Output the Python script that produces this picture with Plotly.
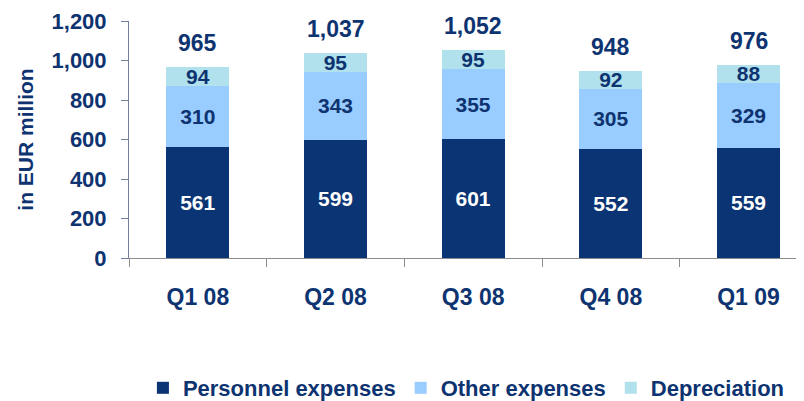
import plotly.graph_objects as go

QUARTERS = ["Q1 08", "Q2 08", "Q3 08", "Q4 08", "Q1 09"]
PERSONNEL = [561, 599, 601, 552, 559]
OTHER = [310, 343, 355, 305, 329]
DEPRECIATION = [94, 95, 95, 92, 88]
TOTALS = [965, 1037, 1052, 948, 976]

TEXT = "#0d3370"
FONT = "Liberation Sans"

fig = go.Figure()
series = [
    ("Personnel expenses", PERSONNEL, "#0a3473", "white"),
    ("Other expenses", OTHER, "#99ccff", TEXT),
    ("Depreciation", DEPRECIATION, "#b1e1ec", TEXT),
]
for name, vals, color, tcolor in series:
    fig.add_trace(go.Bar(
        x=QUARTERS, y=vals, name=name,
        marker=dict(color=color, line=dict(width=0)),
        text=vals, textposition="inside", insidetextanchor="middle",
        constraintext="none",
        textfont=dict(family=FONT, size=21, color=tcolor, weight="bold"),
        width=0.457,
    ))

# totals above each stack
for q, t in zip(QUARTERS, TOTALS):
    fig.add_annotation(
        x=q, y=t, text=f"{t:,}", showarrow=False,
        yanchor="bottom", yshift=9,
        font=dict(family=FONT, size=23, color=TEXT, weight="bold"),
    )

# page body adds an 8px offset, so margins are shifted accordingly
fig.update_layout(
    barmode="stack",
    width=804, height=401,
    margin=dict(l=121, r=0, t=13, b=150),
    plot_bgcolor="white", paper_bgcolor="white",
    font=dict(family=FONT, color=TEXT),
    showlegend=True,
    legend=dict(
        orientation="h", x=0.494, xanchor="center", y=-0.546, yanchor="middle",
        font=dict(size=22, color=TEXT, weight="bold"),
        traceorder="normal", itemwidth=30,
    ),
    xaxis=dict(
        type="category", range=[-0.5, 4.461],
        showline=True, linecolor="#8c8c8c", linewidth=1,
        ticks="outside", tickson="boundaries", ticklen=8, tickcolor="#8c8c8c",
        tickfont=dict(size=23, color=TEXT, weight="bold"),
        ticklabelstandoff=18,
        showgrid=False,
    ),
    yaxis=dict(
        range=[0, 1200], dtick=200, tickformat=",",
        showline=True, linecolor="#6f7f9c", linewidth=1,
        ticks="outside", ticklen=7, tickcolor="#6f7f9c",
        tickfont=dict(size=22, color=TEXT, weight="bold"),
        ticklabelstandoff=10,
        showgrid=False, zeroline=False,
        title=dict(text="in EUR million", font=dict(size=21, color=TEXT, weight="bold"), standoff=12),
    ),
)

fig.write_html("out.html")
